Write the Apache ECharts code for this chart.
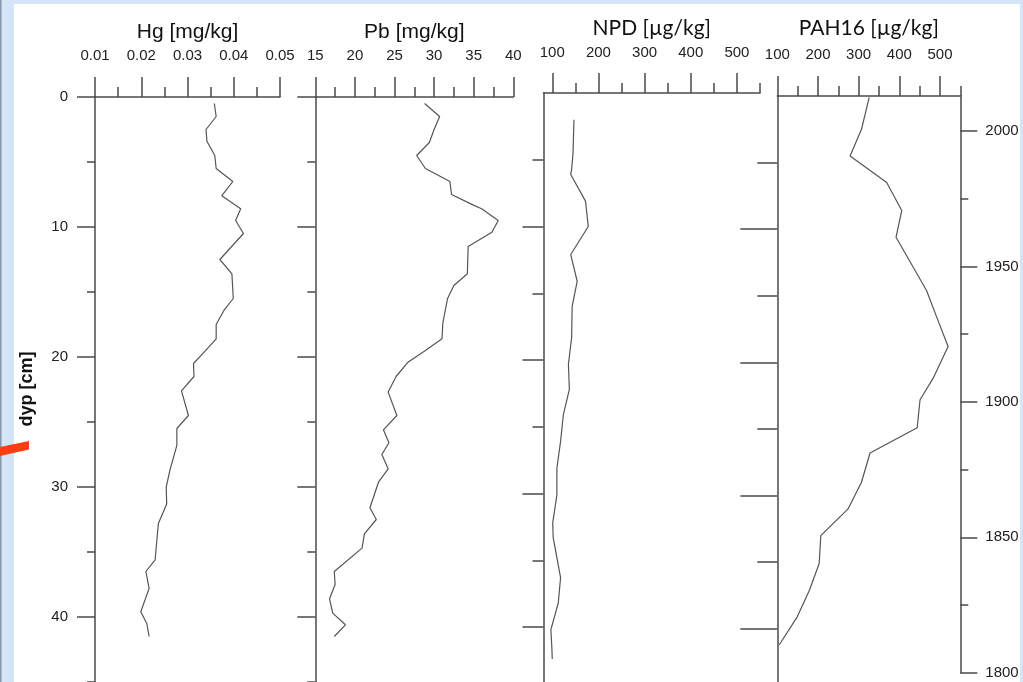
<!DOCTYPE html>
<html><head><meta charset="utf-8">
<script src="https://cdn.jsdelivr.net/npm/echarts@6/dist/echarts.min.js"></script>
<style>html,body{margin:0;padding:0;background:#fff}#c{width:1023px;height:682px}</style>
</head><body><div id="c"></div>
<script>
// ---- data ----
const hgDepth = [0.5,1.5,2.5,3.4,4.5,5.5,6.5,7.6,8.6,9.5,10.5,12.5,13.6,15.5,16.4,17.5,18.6,19.7,20.5,21.5,22.6,24.5,25.5,26.8,28.7,30.0,31.3,32.8,35.6,36.5,37.8,39.6,40.5,41.5];
const hgValues = [0.0358,0.0362,0.0340,0.0342,0.0359,0.0362,0.0398,0.0374,0.0415,0.0404,0.0421,0.0370,0.0396,0.0399,0.0379,0.0362,0.0362,0.0334,0.0313,0.0314,0.0287,0.0302,0.0277,0.0277,0.0262,0.0254,0.0255,0.0237,0.0230,0.0210,0.0217,0.0199,0.0212,0.0217];

const pbDepth = [0.5,1.5,2.5,3.5,4.5,5.5,6.5,7.5,8.3,8.6,9.5,10.4,11.5,13.6,14.5,15.5,17.4,18.6,19.5,20.4,21.5,22.7,24.5,25.6,26.6,27.5,28.6,29.6,31.6,32.5,33.6,34.7,36.5,37.5,38.6,39.7,40.6,41.5];
const pbValues = [28.8,30.7,30.0,29.4,27.8,28.9,32.0,32.2,34.9,36.0,38.1,37.3,34.3,34.2,32.5,31.7,31.1,31.0,28.9,26.7,25.2,24.2,25.3,23.6,24.3,23.4,24.2,23.0,21.9,22.7,21.2,20.9,17.4,17.5,16.8,17.2,18.8,17.4];

const npdDepth = [2.0,4.5,5.7,6.1,8.1,10.0,12.1,14.1,16.0,18.3,20.3,22.2,24.1,26.1,28.1,30.1,32.2,33.3,36.3,38.2,40.2,41.5,42.4];
const npdValues = [147,145,142,140,172,178,140,154,143,142,135,137,124,118,110,110,101,102,118,113,97,99,100];

const pahDepth = [0.1,2.5,4.5,6.5,8.6,10.6,14.6,16.6,18.8,21.2,22.8,24.9,26.8,29.0,31.0,33.0,35.1,37.1,39.1,41.2];
const pahValues = [326,307,279,369,406,392,467,492,520,483,451,444,328,307,274,207,203,179,149,105];

const ugMajor = [100,200,300,400,500];
const ugMinor = [150,250,350,450,550];
const depthMajor = [10,20,30,40];
const depthMinor = [5,15,25,35,45];
const yearMajor = [1800,1850,1900,1950,2000];
const yearMinor = [1825,1875,1925,1975];

const zip = (xs, ys) => xs.map((x, i) => [x, ys[i]]);

const AX = '#4a4a4a';
const FONT = 'Liberation Sans';
const lbl = {fontFamily: FONT, fontSize: 15, color: '#222'};
const axisLine = {show: true, onZero: false, lineStyle: {color: AX, width: 1.5}};
const noLine = {show: false, onZero: false};
const tickStyle = {color: AX, width: 1.5};

function topValueAxis(grid, min, max, interval, name, nameFont, nameSize, gap, margin) {
  return {
    type: 'value', gridIndex: grid, position: 'top', min, max, interval,
    axisLine, splitLine: {show: false},
    axisTick: {show: true, length: 20, lineStyle: tickStyle},
    minorTick: {show: true, splitNumber: 2, length: 10, lineStyle: tickStyle},
    axisLabel: Object.assign({margin}, lbl),
    name, nameLocation: 'middle', nameGap: gap,
    nameTextStyle: {fontFamily: nameFont, fontSize: nameSize, color: '#111', verticalAlign: 'middle'}
  };
}

const chart = echarts.init(document.getElementById('c'), null, {renderer: 'canvas'});
const lineStyle = {color: '#555', width: 1.2};

const option = {
  animation: false,
  backgroundColor: '#ffffff',
  grid: [
    {left: 95, top: 97, width: 185, height: 650, outerBoundsMode: 'none'},
    {left: 315.3, top: 97, width: 198, height: 650, outerBoundsMode: 'none'},
    {left: 543.5, top: 93, width: 216.5, height: 667.5, outerBoundsMode: 'none'},
    {left: 777.3, top: 96, width: 183, height: 666, outerBoundsMode: 'none'},
    {left: 777.3, top: 96, width: 183, height: 576.7, outerBoundsMode: 'none'}
  ],
  xAxis: [
    topValueAxis(0, 0.01, 0.05, 0.01, 'Hg [mg/kg]', FONT, 21, 65, 34),
    topValueAxis(1, 15, 40, 5, 'Pb [mg/kg]', FONT, 21, 65, 34),
    {type: 'value', gridIndex: 2, position: 'top', min: 81, max: 550,
     axisLine, splitLine: {show: false},
     axisTick: {show: true, length: 20, customValues: ugMajor, lineStyle: tickStyle},
     axisLabel: Object.assign({margin: 33, customValues: ugMajor}, lbl),
     name: 'NPD [µg/kg]', nameLocation: 'middle', nameGap: 65,
     nameTextStyle: {fontFamily: 'Lato', fontSize: 21, color: '#111', verticalAlign: 'middle'}},
    {type: 'value', gridIndex: 2, position: 'top', min: 81, max: 550,
     axisLine: noLine, splitLine: {show: false},
     axisTick: {show: true, length: 10, customValues: ugMinor, lineStyle: tickStyle},
     axisLabel: {show: false}},
    {type: 'value', gridIndex: 3, position: 'top', min: 100, max: 550,
     axisLine, splitLine: {show: false},
     axisTick: {show: true, length: 20, customValues: ugMajor, lineStyle: tickStyle},
     axisLabel: Object.assign({margin: 34, customValues: ugMajor}, lbl),
     name: 'PAH16 [µg/kg]', nameLocation: 'middle', nameGap: 68,
     nameTextStyle: {fontFamily: 'Lato', fontSize: 21, color: '#111', verticalAlign: 'middle'}},
    {type: 'value', gridIndex: 3, position: 'top', min: 100, max: 550,
     axisLine: noLine, splitLine: {show: false},
     axisTick: {show: true, length: 10, customValues: ugMinor, lineStyle: tickStyle},
     axisLabel: {show: false}},
    {type: 'value', gridIndex: 4, position: 'bottom', min: 0, max: 1, show: false}
  ],
  yAxis: [
    {type: 'value', gridIndex: 0, position: 'left', inverse: true, min: 0, max: 50, interval: 10,
     axisLine, splitLine: {show: false},
     axisTick: {show: true, length: 18, lineStyle: tickStyle},
     minorTick: {show: true, splitNumber: 2, length: 8, lineStyle: tickStyle},
     axisLabel: Object.assign({margin: 27}, lbl)},
    {type: 'value', gridIndex: 1, position: 'left', inverse: true, min: 0, max: 50, interval: 10,
     axisLine, splitLine: {show: false},
     axisTick: {show: true, length: 18, lineStyle: tickStyle},
     minorTick: {show: true, splitNumber: 2, length: 8, lineStyle: tickStyle},
     axisLabel: {show: false}},
    {type: 'value', gridIndex: 2, position: 'left', inverse: true, min: 0, max: 50,
     axisLine, splitLine: {show: false},
     axisTick: {show: true, length: 21, customValues: depthMajor, lineStyle: tickStyle},
     axisLabel: {show: false}},
    {type: 'value', gridIndex: 2, position: 'left', inverse: true, min: 0, max: 50,
     axisLine: noLine, splitLine: {show: false},
     axisTick: {show: true, length: 11, customValues: depthMinor, lineStyle: tickStyle},
     axisLabel: {show: false}},
    {type: 'value', gridIndex: 3, position: 'left', inverse: true, min: 0, max: 50,
     axisLine, splitLine: {show: false},
     axisTick: {show: true, length: 37, customValues: depthMajor, lineStyle: tickStyle},
     axisLabel: {show: false}},
    {type: 'value', gridIndex: 3, position: 'left', inverse: true, min: 0, max: 50,
     axisLine: noLine, splitLine: {show: false},
     axisTick: {show: true, length: 20, customValues: depthMinor, lineStyle: tickStyle},
     axisLabel: {show: false}},
    {type: 'value', gridIndex: 4, position: 'right', min: 1800, max: 2012.9,
     axisLine, splitLine: {show: false},
     axisTick: {show: true, length: 17, customValues: yearMajor, lineStyle: tickStyle},
     axisLabel: Object.assign({margin: 25, customValues: yearMajor, formatter: v => String(v)}, lbl)},
    {type: 'value', gridIndex: 4, position: 'right', min: 1800, max: 2012.9,
     axisLine: noLine, splitLine: {show: false},
     axisTick: {show: true, length: 8, customValues: yearMinor, lineStyle: tickStyle},
     axisLabel: {show: false}}
  ],
  series: [
    {type: 'line', xAxisIndex: 0, yAxisIndex: 0, data: zip(hgValues, hgDepth), showSymbol: false, lineStyle},
    {type: 'line', xAxisIndex: 1, yAxisIndex: 1, data: zip(pbValues, pbDepth), showSymbol: false, lineStyle},
    {type: 'line', xAxisIndex: 2, yAxisIndex: 2, data: zip(npdValues, npdDepth), showSymbol: false, lineStyle},
    {type: 'line', xAxisIndex: 4, yAxisIndex: 4, data: zip(pahValues, pahDepth), showSymbol: false, lineStyle}
  ],
  graphic: [
    {type: 'rect', shape: {x: 0, y: 0, width: 1023, height: 4}, style: {fill: '#d6e4f8'}, z: 100},
    {type: 'rect', shape: {x: 0, y: 0, width: 14, height: 682}, style: {fill: '#d6e4f8'}, z: 100},
    {type: 'rect', shape: {x: 0, y: 0, width: 1.5, height: 682}, style: {fill: '#8a96a8'}, z: 101},
    {type: 'rect', shape: {x: 1020, y: 0, width: 3, height: 682}, style: {fill: '#d6e4f8'}, z: 100},
    {type: 'text', x: 27, y: 389, rotation: Math.PI / 2, z: 103,
     style: {text: 'dyp [cm]', align: 'center', verticalAlign: 'middle',
             font: 'bold 18px "Liberation Sans"', fill: '#111'}},
    {type: 'polygon', shape: {points: [[0, 447], [29, 441], [29, 449.5], [0, 456]]}, style: {fill: '#ff3d12'}, z: 104}
  ]
};
chart.setOption(option);
</script></body></html>
